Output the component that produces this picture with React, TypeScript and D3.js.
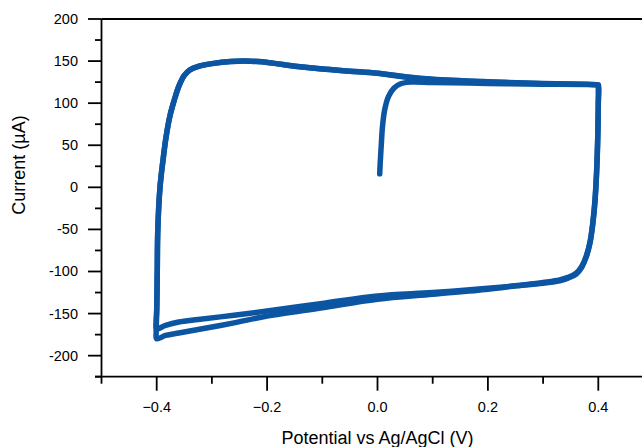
import React from "react";
import * as d3 from "d3";

// ---- Data ----
const initPotential = [0.004, 0.005, 0.007, 0.009, 0.013, 0.02, 0.03, 0.042, 0.06, 0.1, 0.2, 0.3, 0.38, 0.396, 0.4];
const initCurrent = [16, 30, 52, 72, 92, 108, 118, 123, 125, 124.5, 123.5, 122.5, 122.2, 122, 121.5];

const revPotential = [0.4, 0.4, 0.399, 0.397, 0.394, 0.39, 0.385, 0.378, 0.37, 0.36, 0.345, 0.33, 0.3, 0.25, 0.2, 0.1, 0.0, -0.1, -0.2, -0.26, -0.325, -0.36, -0.384, -0.4];
const revCurrent1 = [121.5, 100, 60, 20, -15, -42, -65, -82, -94, -102, -107, -110, -113, -117, -121, -127, -133, -143, -153, -161, -169, -173, -176, -180];
const revCurrent2 = [121.5, 98, 58, 18, -17, -44, -66, -83, -95, -103, -108, -111, -114, -117, -120, -125, -129, -138, -147, -152, -157, -160, -164, -168];

const fwdPotential = [-0.4, -0.401, -0.4, -0.399, -0.398, -0.394, -0.389, -0.383, -0.376, -0.368, -0.36, -0.35, -0.34, -0.326, -0.3, -0.266, -0.217, -0.145, -0.1, -0.05, 0.0, 0.05, 0.1, 0.2, 0.3, 0.38, 0.396, 0.4];
const fwdCurrent1 = [-180, -172, -150, -100, -50, 0, 30, 60, 85, 104, 120, 133, 139.5, 143.5, 147, 149.5, 149.5, 143.5, 140.5, 138, 135.5, 131, 128, 125, 123, 122.2, 122, 121.5];
const fwdCurrent2 = [-168, -160, -145, -100, -50, 0, 30, 60, 85, 104, 120, 133, 139.5, 143.5, 147, 149.5, 149.5, 143.5, 140.5, 138, 135.5, 131.5, 128.5, 125.5, 123.5, 122.4, 122, 121.5];

const xMajorTicks = [-0.4, -0.2, 0.0, 0.2, 0.4];
const xMinorTicks = [-0.5, -0.3, -0.1, 0.1, 0.3, 0.5];
const yMajorTicks = [-200, -150, -100, -50, 0, 50, 100, 150, 200];
const yMinorTicks = [-225, -175, -125, -75, -25, 25, 75, 125, 175];

const xTitle = "Potential vs Ag/AgCl (V)";
const yTitle = "Current (\u00B5A)";

type Pt = [number, number];
const zip = (xs: number[], ys: number[]): Pt[] => xs.map((x, i) => [x, ys[i]]);

export default function App() {
  const W = 642;
  const H = 447;
  const left = 101.5;
  const top = 19;
  const bottom = 376.7;
  const x = d3.scaleLinear().domain([-0.5, 0.5]).range([left, 653.5]);
  const y = d3.scaleLinear().domain([-225, 200]).range([bottom, top]);

  const line = d3
    .line<Pt>()
    .x((d) => x(d[0]))
    .y((d) => y(d[1]))
    .curve(d3.curveCatmullRom.alpha(0.5));

  const cycle1 = [
    ...zip(initPotential, initCurrent),
    ...zip(revPotential, revCurrent1).slice(1),
    ...zip(fwdPotential, fwdCurrent1).slice(1),
  ];
  const cycle2 = [
    ...zip(revPotential, revCurrent2),
    ...zip(fwdPotential, fwdCurrent2).slice(1),
  ];

  const color = "#0c55a2";
  const font = "'Liberation Sans', Arial, sans-serif";
  const fmtX = d3.format(".1f");

  return (
    <svg
      width={W}
      height={H}
      style={{ position: "absolute", left: 0, top: 0, background: "#fff" }}
      fontFamily={font}
    >
      <rect x={0} y={0} width={W} height={H} fill="#fff" />
      {/* data */}
      <g fill="none" stroke={color} strokeWidth={5.5} strokeLinejoin="round" strokeLinecap="round">
        <path d={line(cycle1) || ""} />
        <path d={line(cycle2) || ""} />
      </g>
      {/* axes */}
      <g stroke="#000" strokeWidth={1.8} fill="none">
        <line x1={left} x2={left} y1={top} y2={bottom} />
        <line x1={left} x2={W} y1={top} y2={top} />
        <line x1={left - 6.5} x2={W} y1={bottom} y2={bottom} />
        {yMajorTicks.map((t) => (
          <line key={"ym" + t} x1={left - 13.5} x2={left} y1={y(t)} y2={y(t)} />
        ))}
        {yMinorTicks.map((t) => (
          <line key={"yn" + t} x1={left - 6.5} x2={left} y1={y(t)} y2={y(t)} />
        ))}
        {xMajorTicks.map((t) => (
          <line key={"xm" + t} x1={x(t)} x2={x(t)} y1={bottom} y2={bottom + 14} />
        ))}
        {xMinorTicks.map((t) => (
          <line key={"xn" + t} x1={x(t)} x2={x(t)} y1={bottom} y2={bottom + 7} />
        ))}
      </g>
      <g fontSize={14.5} fill="#000">
        {yMajorTicks.map((t) => (
          <text key={"yl" + t} x={78} y={y(t)} textAnchor="end" dominantBaseline="central">
            {String(t)}
          </text>
        ))}
        {xMajorTicks.map((t) => (
          <text key={"xl" + t} x={x(t)} y={411.7} textAnchor="middle">
            {fmtX(t)}
          </text>
        ))}
      </g>
      <text x={x(0)} y={444} textAnchor="middle" fontSize={18} fill="#000">
        {xTitle}
      </text>
      <text transform="translate(24.5,165) rotate(-90)" textAnchor="middle" fontSize={18} fill="#000">
        {yTitle}
      </text>
    </svg>
  );
}
